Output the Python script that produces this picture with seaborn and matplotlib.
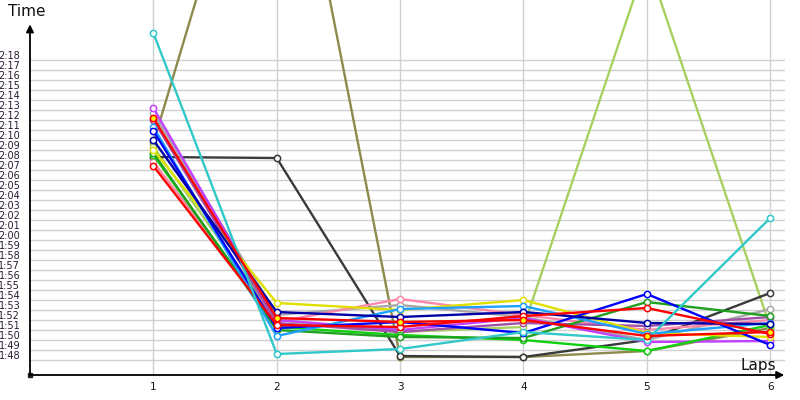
import matplotlib
matplotlib.use("Agg")
import matplotlib.pyplot as plt
from matplotlib.transforms import ScaledTranslation
import numpy as np
import pandas as pd
import seaborn as sns

# ---- data (lap times in seconds) ----
laps = [1, 2, 3, 4, 5, 6]
cyan_t        = [140.7, 108.6, 109.1, 110.8, 110.0, 122.2]
olive_t       = [129.7, 171.0, 108.3, 108.3, 108.9, 111.2]
black_t       = [128.3, 128.2, 108.4, 108.3, 110.0, 114.7]
yellowgreen_t = [129.3, 112.0, 110.8, 111.3, 148.0, 111.3]
blue_t        = [130.9, 111.2, 111.8, 110.7, 114.6, 109.5]
navy_t        = [130.0, 112.8, 112.3, 112.8, 111.7, 111.6]
green_t       = [128.7, 111.0, 110.3, 110.2, 113.8, 112.4]
lime_t        = [128.5, 111.3, 110.5, 110.0, 108.9, 111.5]
red_t         = [127.4, 111.5, 111.3, 112.4, 113.2, 110.6]
yellow_t      = [129.0, 113.7, 113.0, 114.0, 110.7, 110.3]
lightblue_t   = [131.3, 110.4, 113.1, 113.4, 110.6, 111.7]
pink_t        = [127.8, 111.8, 114.1, 112.5, 111.0, 112.0]
gray_t        = [132.7, 112.5, 113.5, 112.3, 110.0, 113.1]
violet_t      = [133.2, 112.0, 111.0, 112.2, 109.8, 109.9]
purple_t      = [132.0, 111.7, 110.8, 111.7, 111.4, 112.3]
highlight_t   = [132.2, 112.2, 111.8, 112.0, 110.4, 110.8]

series = {
    "olive": olive_t, "yellowgreen": yellowgreen_t, "black": black_t,
    "gray": gray_t, "pink": pink_t, "violet": violet_t, "purple": purple_t,
    "lime": lime_t, "green": green_t, "yellow": yellow_t, "lightblue": lightblue_t,
    "blue": blue_t, "navy": navy_t, "red": red_t, "cyan": cyan_t,
    "highlight": highlight_t,
}
palette = {
    "olive": "#8c8a4c", "yellowgreen": "#a8d060", "black": "#3a3a3a",
    "gray": "#a8a8a8", "pink": "#ff88aa", "violet": "#c040ff", "purple": "#a050a8",
    "lime": "#10d010", "green": "#20a020", "yellow": "#e0e000", "lightblue": "#1ea0ff",
    "blue": "#0000ff", "navy": "#0000a8", "red": "#ff0000", "cyan": "#30c8c8",
    "highlight": "#ff0000",
}
ytick_vals = list(range(108, 139))
ytick_labels = [f"{v // 60}:{v % 60:02d}" for v in ytick_vals]

rows = []
for name, vals in series.items():
    for lap, t in zip(laps, vals):
        rows.append({"driver": name, "lap": lap, "time": t})
df = pd.DataFrame(rows)

sns.set_theme(style="white")
plt.rcParams["font.family"] = ["DejaVu Sans"]

fig = plt.figure(figsize=(8, 4), dpi=100)
ax = fig.add_axes([30 / 800, 25 / 400, 755 / 800, 375 / 400])

sns.lineplot(data=df, x="lap", y="time", hue="driver", palette=palette,
             hue_order=list(series.keys()), marker="o", markersize=4.5,
             linewidth=1.7, estimator=None, sort=False, legend=False, ax=ax)

for line in ax.lines:
    c = line.get_color()
    line.set_markerfacecolor("white")
    line.set_markeredgecolor(c)
    line.set_markeredgewidth(1.1)
ax.lines[-1].set_markerfacecolor("#ffff00")

ax.set_xlim(0, 6.12)
ax.set_ylim(106.5, 144)
ax.set_xticks(laps)
ax.set_xticklabels([str(l) for l in laps])
ax.set_yticks(ytick_vals)
ax.set_yticklabels(ytick_labels)
ax.set_xlabel("")
ax.set_ylabel("")
ax.grid(True, color="#d0d0d0", linewidth=1)
ax.set_axisbelow(True)
ax.tick_params(axis="y", length=0, labelsize=7, pad=7, labelcolor="#2a1a30")
ax.tick_params(axis="x", length=0, labelsize=7.5, pad=5, labelcolor="#111111")
for lbl in ax.get_yticklabels():
    lbl.set_transform(lbl.get_transform() + ScaledTranslation(0, 5 / 100, fig.dpi_scale_trans))
for s in ax.spines.values():
    s.set_visible(False)

# axes with arrows
ax.annotate("", xy=(0, 0.935), xytext=(0, 0), xycoords="axes fraction",
            arrowprops=dict(arrowstyle="-|>", color="black", lw=1.3,
                            mutation_scale=11, shrinkA=0, shrinkB=0), annotation_clip=False)
ax.annotate("", xy=(0.999, 0), xytext=(0, 0), xycoords="axes fraction",
            arrowprops=dict(arrowstyle="-|>", color="black", lw=1.3,
                            mutation_scale=11, shrinkA=0, shrinkB=0), annotation_clip=False)
ax.plot([0], [0], marker="s", color="#222222", markersize=3, transform=ax.transAxes, clip_on=False)

fig.text(8 / 800, 1 - 4 / 400, "Time", ha="left", va="top", fontsize=11, color="#111111")
fig.text(776 / 800, 1 - 373 / 400, "Laps", ha="right", va="bottom", fontsize=11, color="#111111")

fig.savefig("out.png", dpi=100, facecolor="white")
